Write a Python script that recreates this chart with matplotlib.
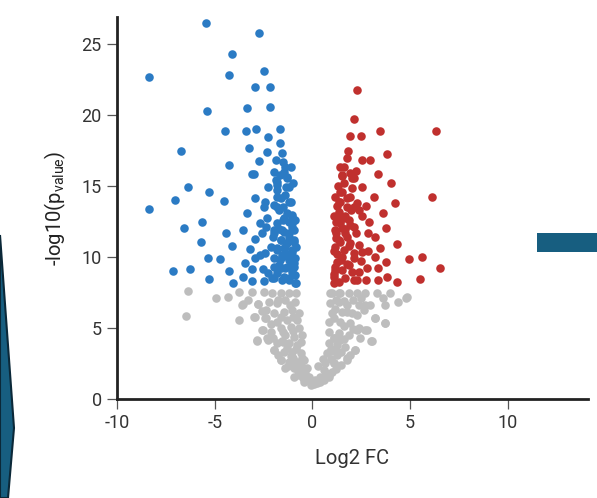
import matplotlib.pyplot as plt
from matplotlib.patches import Polygon, Rectangle

plt.rcParams["font.family"] = ["Roboto", "DejaVu Sans"]
plt.rcParams["axes.unicode_minus"] = False

# down-regulated (blue): log2 fold change, -log10(p)
down_fc = [
    -5.44, -2.74, -8.37, -4.10, -4.29, -2.46, -2.92, -2.16, -5.41, -3.37,
    -2.19, -4.47, -3.40, -2.87, -1.67, -2.26, -1.67, -6.72, -3.23, -2.35,
    -1.57, -4.29, -2.74, -1.84, -1.50, -3.11, -2.99, -1.99, -1.41, -1.29,
    -1.84, -6.39, -5.29, -2.28, -1.79, -1.33, -8.38, -7.03, -4.52, -2.92,
    -2.41, -1.80, -1.19, -2.48, -1.97, -3.37, -1.70, -1.29, -1.06, -5.66,
    -2.69, -2.33, -1.50, -1.04, -6.57, -3.54, -2.59, -1.97, -1.55, -1.21,
    -0.95, -4.44, -5.68, -2.94, -2.03, -1.63, -1.29, -0.92, -4.10, -3.21,
    -2.14, -1.80, -1.46, -1.04, -5.37, -4.73, -2.94, -2.45, -1.97, -1.55,
    -1.12, -0.87, -7.11, -6.29, -4.25, -3.47, -3.10, -2.55, -1.97, -1.63,
    -1.29, -0.95, -5.29, -4.08, -3.56, -3.08, -2.48, -1.97, -1.55, -1.21,
    -0.83, -1.46, -1.29, -1.80, -1.21, -1.80, -1.38, -1.63, -1.12, -1.80,
    -1.04, -1.46, -1.21, -1.80, -1.04, -1.46, -1.97, -1.21, -1.63, -0.95,
    -1.38, -1.80, -1.04, -1.55, -1.21, -0.95, -1.72, -1.38, -1.04, -1.80,
    -1.46, -1.21, -0.87, -2.06, -1.10, -1.65, -1.00, -1.50, -0.90, -1.70,
    -1.30, -0.85, -1.65, -1.05, -0.90, -2.30, -2.70, -2.40,
]
down_p = [
    26.50, 25.75, 22.70, 24.30, 22.80, 23.10, 21.95, 21.97, 20.26, 20.47,
    20.56, 18.87, 18.87, 19.04, 19.01, 18.43, 18.05, 17.49, 17.65, 17.37,
    17.35, 16.46, 16.74, 16.83, 16.71, 15.85, 15.85, 15.99, 16.36, 15.65,
    15.42, 14.91, 14.60, 14.91, 15.05, 14.95, 13.40, 14.04, 13.94, 14.13,
    13.89, 14.25, 13.89, 13.54, 13.66, 13.08, 13.31, 13.08, 12.84, 12.46,
    12.42, 12.75, 12.61, 12.42, 12.04, 11.92, 11.67, 11.90, 11.90, 11.67,
    11.90, 11.67, 11.06, 11.29, 11.43, 11.20, 10.96, 11.20, 10.77, 10.56,
    10.73, 10.49, 10.61, 10.49, 9.91, 9.84, 9.91, 10.26, 9.91, 10.02,
    10.02, 9.91, 9.04, 9.18, 9.04, 9.55, 9.18, 9.18, 9.32, 9.20,
    9.32, 9.32, 8.43, 8.19, 8.57, 8.31, 8.31, 8.50, 8.38, 8.50,
    8.15, 16.00, 15.54, 15.30, 14.95, 14.72, 14.37, 14.13, 13.89, 13.54,
    12.96, 12.73, 12.49, 12.37, 12.13, 11.78, 11.67, 11.43, 11.20, 11.08,
    10.73, 10.61, 10.37, 10.14, 9.79, 9.55, 9.44, 9.20, 8.97, 8.85,
    8.61, 8.38, 8.15, 8.50, 16.30, 15.80, 15.20, 13.50, 12.60, 12.00,
    10.20, 10.70, 9.75, 9.60, 8.70, 8.90, 10.10, 12.10,
]

# up-regulated (red)
up_fc = [
    2.28, 2.11, 1.90, 2.48, 3.45, 6.34, 1.80, 1.77, 2.55, 2.96,
    3.83, 1.63, 2.24, 3.35, 1.53, 2.01, 1.60, 4.01, 2.53, 2.02,
    1.51, 6.11, 3.16, 1.94, 1.43, 2.28, 2.74, 4.20, 1.34, 1.99,
    3.61, 2.53, 1.60, 1.22, 2.91, 1.94, 3.78, 1.51, 2.24, 2.82,
    1.21, 3.18, 1.77, 4.32, 1.43, 2.36, 1.17, 3.43, 2.53, 2.82,
    4.96, 5.63, 6.53, 1.51, 2.11, 3.18, 3.74, 1.26, 1.77, 2.79,
    3.35, 1.17, 2.36, 3.81, 5.51, 2.11, 2.74, 3.33, 4.32, 1.09,
    1.51, 2.11, 1.77, 1.43, 1.77, 1.34, 2.11, 1.26, 1.85, 1.43,
    2.11, 1.17, 1.68, 1.34, 1.94, 1.60, 2.11, 1.17, 1.51, 2.02,
    1.09, 1.68, 1.34, 2.28, 1.85, 1.26, 1.68, 1.15, 1.25, 1.10,
    1.65, 1.20, 1.10, 1.45, 1.85, 1.10, 2.50, 1.90, 1.40, 2.40,
    1.30,
]
up_p = [
    21.74, 19.74, 18.50, 18.50, 18.87, 18.85, 17.49, 16.95, 16.79, 16.83,
    17.23, 16.36, 16.06, 15.87, 15.70, 15.54, 15.19, 15.21, 14.95, 14.84,
    14.60, 14.23, 14.20, 14.25, 13.89, 13.78, 13.61, 13.83, 13.19, 13.31,
    13.12, 12.89, 12.73, 12.49, 12.46, 12.25, 12.02, 12.02, 11.67, 11.71,
    11.67, 11.39, 11.43, 10.89, 11.08, 10.85, 10.73, 10.61, 10.37, 10.44,
    9.88, 10.00, 9.23, 10.02, 9.91, 9.98, 9.65, 9.67, 9.51, 9.25,
    9.25, 9.08, 8.94, 8.61, 8.47, 8.38, 8.38, 8.38, 8.24, 8.15,
    15.77, 15.54, 14.13, 14.60, 13.54, 13.89, 13.54, 12.84, 12.61, 12.37,
    12.13, 11.90, 11.67, 11.20, 10.96, 10.49, 10.26, 9.32, 9.08, 8.97,
    8.61, 8.50, 8.26, 8.38, 10.80, 10.20, 12.90, 14.20, 13.60, 12.90,
    12.00, 11.30, 10.40, 9.80, 9.40, 8.80, 9.70, 15.90, 16.30, 13.30,
    15.00,
]

# not significant (grey)
ns_fc = [
    -6.36, -6.48, -4.91, -3.76, -3.76, -3.54, -3.08, -2.96, -2.79, -2.48,
    -2.40, -2.54, -2.82, -2.31, -1.97, -1.63, -1.38, -0.95, -0.44, 0.07,
    0.41, 0.83, 1.09, 1.17, 1.43, 1.77, 2.19, 2.28, 2.79, 3.05,
    3.21, 3.72, 3.72, 3.30, 3.98, 4.80, 2.70, 2.28, 1.85, 1.34,
    0.92, -2.06, -1.63, -1.21, -0.82, -3.59, -2.79, -2.23, -1.80, -1.38,
    -0.87, -2.40, -1.97, -1.46, -1.04, -0.70, -2.99, -2.43, -1.80, -1.29,
    -0.78, -1.63, -1.12, -0.70, -2.57, -2.14, -1.38, -0.95, -0.53, -2.82,
    -2.28, -1.80, -1.21, -0.78, -1.97, -1.46, -1.04, -0.61, -1.63, -1.21,
    -0.78, -0.44, -0.95, -0.53, -0.70, -0.36, -0.19, 1.00, 1.43, 2.70,
    4.83, 0.92, 1.34, 1.77, 2.36, 2.96, 1.00, 1.51, 2.02, 2.62,
    3.21, 3.69, 0.83, 1.43, 1.94, 2.36, 2.70, 0.83, 1.34, 1.85,
    2.45, 3.01, 0.83, 1.26, 1.68, 2.16, 0.75, 1.26, 1.77, 0.66,
    1.09, 0.58, 1.00, 0.41, 0.83, 0.15, -0.19, -0.10, -0.27, -1.10,
    -0.85, -0.60, -0.40, 0.55, 0.95, 1.20, 0.30, -0.55, 1.10, -1.50,
    -1.75, -1.15, -2.60, -1.60, -1.00, -2.10, -1.50, -1.00, -2.00, -1.55,
    -0.60, -1.30, -0.85, -1.75, -1.00, -0.60, -1.25, -0.75, -0.50, -4.30,
    -3.30, 1.20, 1.60, 2.05, 1.15, 1.75, 2.30, 1.10, 1.60, 2.05,
    1.10, 1.60, 0.95, 1.45, 1.90, 0.95, 1.45, 0.70, 0.25, -0.05,
    0.60, 3.60, 2.50, 4.40,
]
ns_p = [
    7.63, 5.87, 7.13, 7.56, 5.56, 6.69, 7.56, 5.75, 6.67, 7.56,
    5.70, 4.86, 4.15, 4.27, 3.45, 2.75, 2.16, 1.57, 1.22, 1.04,
    1.22, 1.69, 2.51, 3.45, 4.15, 2.86, 3.45, 4.86, 4.86, 4.11,
    5.68, 5.33, 6.62, 7.49, 7.49, 7.13, 6.62, 7.49, 7.49, 7.49,
    7.49, 7.49, 7.49, 7.49, 7.44, 6.62, 6.69, 6.85, 6.73, 6.97,
    6.85, 6.27, 6.03, 6.15, 6.27, 6.03, 5.75, 5.68, 5.44, 5.56,
    5.56, 4.98, 5.09, 4.98, 4.86, 4.74, 4.51, 4.39, 4.51, 4.11,
    4.15, 3.92, 3.92, 3.80, 3.45, 3.33, 3.33, 3.22, 2.75, 2.63,
    2.63, 2.75, 2.16, 2.04, 1.69, 1.57, 1.34, 7.44, 7.44, 7.44,
    7.16, 6.73, 6.85, 6.62, 6.62, 6.62, 6.03, 6.15, 6.03, 6.27,
    5.68, 5.33, 5.44, 5.44, 5.33, 4.98, 4.86, 4.74, 4.63, 4.51,
    4.27, 4.11, 3.92, 3.80, 3.68, 3.45, 3.22, 3.10, 2.75, 2.51,
    2.51, 2.04, 1.92, 1.57, 1.57, 1.34, 1.57, 1.22, 2.16, 3.00,
    2.40, 1.90, 1.80, 2.80, 3.40, 2.10, 2.30, 2.90, 4.30, 4.00,
    7.00, 6.60, 6.20, 5.80, 5.80, 5.30, 4.70, 4.80, 4.30, 4.10,
    4.00, 3.60, 3.50, 3.10, 2.90, 2.50, 2.30, 1.95, 1.45, 7.20,
    7.00, 7.00, 6.90, 7.00, 6.30, 6.10, 5.90, 5.70, 5.10, 4.90,
    4.30, 4.20, 3.50, 3.30, 3.10, 2.80, 2.40, 1.85, 1.10, 1.00,
    1.30, 7.10, 7.10, 6.80,
]

x_ticks = [-10, -5, 0, 5, 10]
y_ticks = [0, 5, 10, 15, 20, 25]

fig = plt.figure(figsize=(5.97, 4.98), dpi=100)
ax = fig.add_axes([0.196, 0.199, 0.789, 0.767])

ax.scatter(ns_fc, ns_p, s=38, color="#bdbdbd", linewidths=0, zorder=2)
ax.scatter(down_fc, down_p, s=38, color="#2b7bc4", linewidths=0, zorder=3)
ax.scatter(up_fc, up_p, s=38, color="#c0302e", linewidths=0, zorder=3)

ax.set_xlim(-10, 14.1)
ax.set_ylim(0, 26.9)
ax.set_xticks(x_ticks)
ax.set_yticks(y_ticks)
for side in ("top", "right"):
    ax.spines[side].set_visible(False)
for side in ("left", "bottom"):
    ax.spines[side].set_linewidth(2.0)
    ax.spines[side].set_color("#222222")
ax.tick_params(length=7, width=0.9, color="#555555", labelcolor="#333333",
               labelsize=13, pad=4)
ax.set_xlabel("Log2 FC", fontsize=14.5, color="#333333", labelpad=12)
ax.set_ylabel(r"-log10(p$_\mathregular{value}$)", fontsize=14.5,
              color="#222222", labelpad=10)

# decorative shapes from the slide around the chart
fig.patches.append(Polygon(
    [(0, 1 - 235 / 498), (14 / 597, 1 - 428 / 498), (8 / 597, 0), (0, 0)],
    closed=True, transform=fig.transFigure, facecolor="#175e80",
    edgecolor="#0b2838", linewidth=1.5, zorder=0))
fig.patches.append(Rectangle(
    (537 / 597, 1 - 252 / 498), 60 / 597, 19 / 498,
    transform=fig.transFigure, facecolor="#175e80", edgecolor="none"))

fig.savefig("out.png", dpi=100)
